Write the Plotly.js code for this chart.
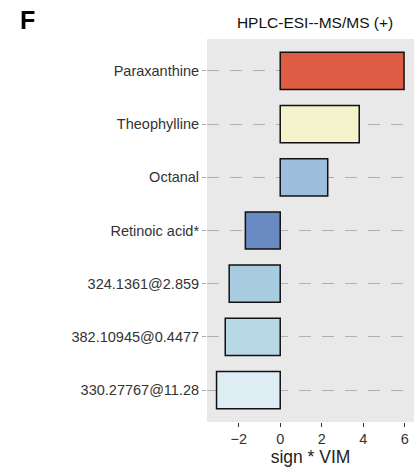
<!DOCTYPE html>
<html><head><meta charset="utf-8">
<script src="https://cdn.plot.ly/plotly-3.0.1.min.js"></script>
<style>html,body{margin:0;padding:0;background:#fff;}#chart{width:414px;height:467px;}</style>
</head><body><div id="chart"></div>
<script>
const compounds = ["Paraxanthine","Theophylline","Octanal","Retinoic acid*","324.1361@2.859","382.10945@0.4477","330.27767@11.28"];
const signVIM = [5.97, 3.81, 2.29, -1.68, -2.46, -2.65, -3.07];
const barColors = ["#df5c44","#f5f3cc","#9dbedc","#6a8ac3","#a8cbe0","#b9d8e6","#ddedf3"];
const xTicks = [-2, 0, 2, 4, 6];

const trace = {
  type: 'bar', orientation: 'h',
  x: signVIM, y: compounds,
  width: 0.7,
  marker: {color: barColors, line: {color: '#111', width: 1.5}},
  hoverinfo: 'x+y'
};
const layout = {
  width: 414, height: 467,
  margin: {l: 207, r: 0, t: 39, b: 45},
  paper_bgcolor: '#fff', plot_bgcolor: '#e9e9e9',
  font: {family: 'Liberation Sans, Arial, sans-serif', color: '#333', size: 14.5},
  title: {text: 'HPLC-ESI--MS/MS (+)', x: 0.761, xanchor: 'center', y: 0.951, yanchor: 'middle',
          font: {size: 15.5, color: '#111'}},
  showlegend: false,
  xaxis: {range: [-3.53, 6.45], tickvals: xTicks, ticktext: xTicks.map(v => v < 0 ? '\u2212' + Math.abs(v) : String(v)),
          showgrid: false, zeroline: false, ticks: 'outside', ticklen: 4, tickwidth: 1, tickcolor: '#333',
          tickfont: {size: 14.5, color: '#333'},
          title: {text: 'sign * VIM', font: {size: 17.5, color: '#222'}, standoff: 2}},
  yaxis: {type: 'category', range: [6.6, -0.6], showgrid: true, gridcolor: '#b0b0b0', gridwidth: 1,
          griddash: '12px,11px', zeroline: false, ticks: 'outside', ticklen: 4, tickcolor: '#aaa',
          tickfont: {size: 14.5, color: '#333'}},
  annotations: [{text: '<b>F</b>', xref: 'paper', yref: 'paper', x: -0.913, y: 1.0, xanchor: 'left', yanchor: 'bottom',
                 yshift: 3, showarrow: false, font: {size: 25, color: '#000', family: 'Liberation Sans, Arial, sans-serif'}}]
};
Plotly.newPlot('chart', [trace], layout, {staticPlot: true, displayModeBar: false});
</script></body></html>
